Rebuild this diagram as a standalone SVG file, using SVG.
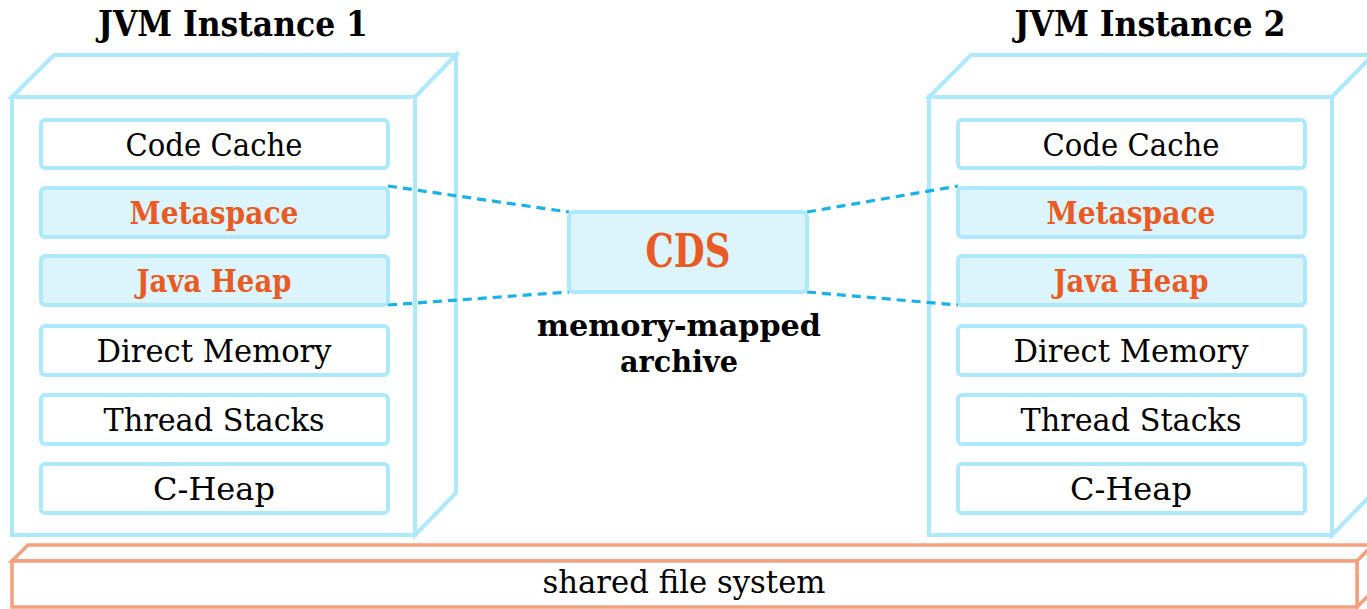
<svg xmlns="http://www.w3.org/2000/svg" width="1367" height="609" viewBox="0 0 1367 609">
<style>
.box{fill:#fff;stroke:#aee8fc;stroke-width:4;stroke-linejoin:miter}
.fs{fill:#fff;stroke:#f2a07e;stroke-width:3.5}
.cell{fill:#fff;stroke:#aee8fc;stroke-width:4}
.cell.hl{fill:#dcf5fd}
.t{font-family:"DejaVu Serif","Liberation Serif",serif;font-size:32px;fill:#000;text-anchor:middle}
.o{fill:#e95b25;font-weight:bold;font-size:32px}
.title{font-family:"DejaVu Serif","Liberation Serif",serif;font-size:36px;font-weight:bold;fill:#000;text-anchor:middle}
.lbl{font-family:"DejaVu Serif","Liberation Serif",serif;font-size:29px;font-weight:bold;fill:#000;text-anchor:middle}
.dash{stroke:#1ab0e8;stroke-width:3.2;stroke-dasharray:9 6;fill:none}
</style>
<g id="shared-fs">
<polygon class="fs" points="12,561 28,545 1373,545 1357,561"/>
<polygon class="fs" points="1357,561 1373,545 1373,591 1357,607"/>
<rect class="fs" x="12" y="561" width="1345" height="46"/>
<text class="t" x="684" y="593" textLength="283" lengthAdjust="spacingAndGlyphs">shared file system</text>
</g>
<g id="jvm1">
<text class="title" x="233" y="36" textLength="270" lengthAdjust="spacingAndGlyphs">JVM Instance 1</text>
<polygon class="box" points="12,97 54,55 456,55 415,97"/>
<polygon class="box" points="415,97 456,55 456,493 415,535"/>
<rect class="box" x="12" y="97" width="403" height="438"/>
<g id="jvm1-codecache"><rect class="cell" x="41" y="120" width="347" height="48" rx="4"/><text class="t" x="214" y="156" textLength="177" lengthAdjust="spacingAndGlyphs">Code Cache</text></g>
<g id="jvm1-metaspace"><rect class="cell hl" x="41" y="188" width="347" height="49" rx="4"/><text class="t o" x="214" y="224" textLength="169" lengthAdjust="spacingAndGlyphs">Metaspace</text></g>
<g id="jvm1-javaheap"><rect class="cell hl" x="41" y="256" width="347" height="49" rx="4"/><text class="t o" x="214" y="292" textLength="155" lengthAdjust="spacingAndGlyphs">Java Heap</text></g>
<g id="jvm1-direct"><rect class="cell" x="41" y="326" width="347" height="49" rx="4"/><text class="t" x="214" y="362" textLength="235" lengthAdjust="spacingAndGlyphs">Direct Memory</text></g>
<g id="jvm1-threads"><rect class="cell" x="41" y="395" width="347" height="49" rx="4"/><text class="t" x="214" y="431" textLength="221" lengthAdjust="spacingAndGlyphs">Thread Stacks</text></g>
<g id="jvm1-cheap"><rect class="cell" x="41" y="464" width="347" height="49" rx="4"/><text class="t" x="214" y="500" textLength="122" lengthAdjust="spacingAndGlyphs">C-Heap</text></g>
</g>
<g id="jvm2">
<text class="title" x="1150" y="36" textLength="271" lengthAdjust="spacingAndGlyphs">JVM Instance 2</text>
<polygon class="box" points="929,97 971,55 1373,55 1332,97"/>
<polygon class="box" points="1332,97 1373,55 1373,493 1332,535"/>
<rect class="box" x="929" y="97" width="403" height="438"/>
<g id="jvm2-codecache"><rect class="cell" x="958" y="120" width="347" height="48" rx="4"/><text class="t" x="1131" y="156" textLength="177" lengthAdjust="spacingAndGlyphs">Code Cache</text></g>
<g id="jvm2-metaspace"><rect class="cell hl" x="958" y="188" width="347" height="49" rx="4"/><text class="t o" x="1131" y="224" textLength="169" lengthAdjust="spacingAndGlyphs">Metaspace</text></g>
<g id="jvm2-javaheap"><rect class="cell hl" x="958" y="256" width="347" height="49" rx="4"/><text class="t o" x="1131" y="292" textLength="155" lengthAdjust="spacingAndGlyphs">Java Heap</text></g>
<g id="jvm2-direct"><rect class="cell" x="958" y="326" width="347" height="49" rx="4"/><text class="t" x="1131" y="362" textLength="235" lengthAdjust="spacingAndGlyphs">Direct Memory</text></g>
<g id="jvm2-threads"><rect class="cell" x="958" y="395" width="347" height="49" rx="4"/><text class="t" x="1131" y="431" textLength="221" lengthAdjust="spacingAndGlyphs">Thread Stacks</text></g>
<g id="jvm2-cheap"><rect class="cell" x="958" y="464" width="347" height="49" rx="4"/><text class="t" x="1131" y="500" textLength="122" lengthAdjust="spacingAndGlyphs">C-Heap</text></g>
</g>
<g id="connectors">
<line class="dash" x1="388" y1="186" x2="569" y2="212"/>
<line class="dash" x1="388" y1="305" x2="569" y2="292"/>
<line class="dash" x1="807" y1="212" x2="958" y2="186"/>
<line class="dash" x1="807" y1="292" x2="958" y2="305"/>
</g>
<g id="cds">
<rect class="cell hl" x="569" y="212" width="238" height="80" rx="5"/>
<text class="t o" x="688" y="267" style="font-size:47px" textLength="85" lengthAdjust="spacingAndGlyphs">CDS</text>
<text class="lbl" x="679" y="336" textLength="284" lengthAdjust="spacingAndGlyphs">memory-mapped</text>
<text class="lbl" x="679" y="372" textLength="118" lengthAdjust="spacingAndGlyphs">archive</text>
</g>
</svg>
